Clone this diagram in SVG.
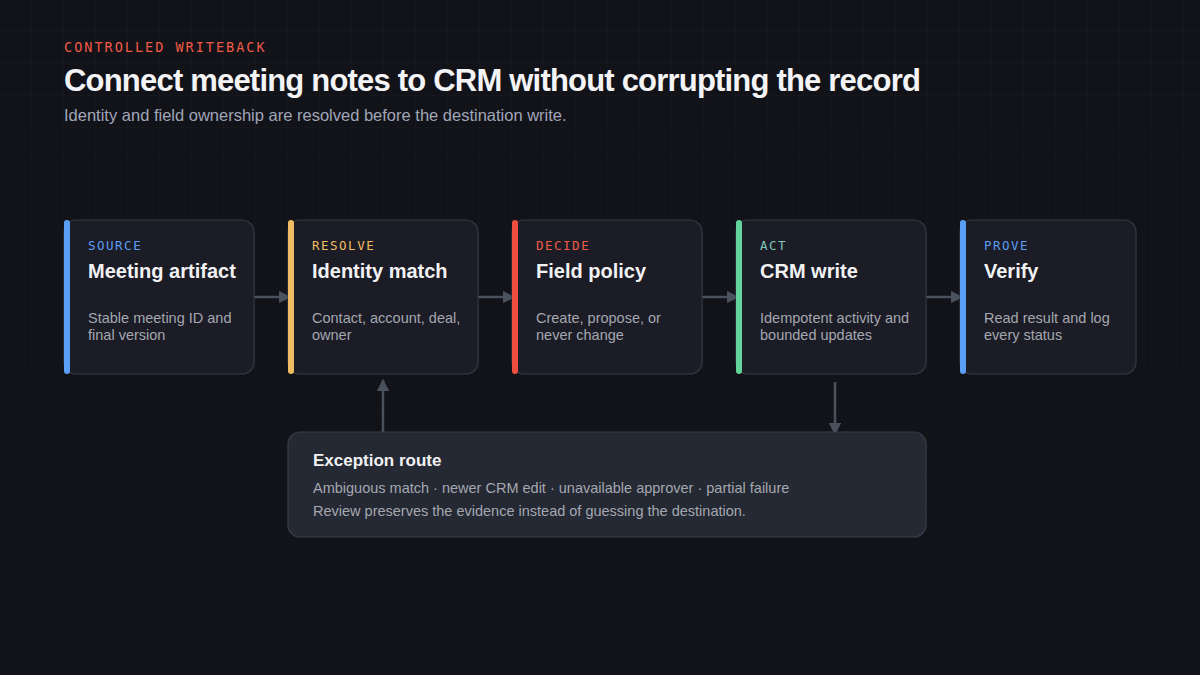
<svg xmlns="http://www.w3.org/2000/svg" width="1200" height="675" viewBox="0 0 1200 675">
<defs>
<pattern id="grid" width="32" height="32" patternUnits="userSpaceOnUse"><path d="M32 0V32M0 32H32" fill="none" stroke="#ffffff" stroke-opacity="0.035" stroke-width="1"/></pattern>
<linearGradient id="fade" x1="0" y1="0" x2="0" y2="1"><stop offset="0" stop-color="#fff" stop-opacity="1"/><stop offset="1" stop-color="#fff" stop-opacity="0.5"/></linearGradient>
<mask id="m"><rect width="1200" height="618" fill="url(#fade)"/></mask>
<marker id="ah" viewBox="0 0 10 10" refX="9" refY="5" markerWidth="5" markerHeight="5" markerUnits="strokeWidth" orient="auto"><path d="M0 0L10 5L0 10Z" fill="#4b515c"/></marker>
</defs>
<style>
.card{fill:#1b1c25;stroke:#363944;stroke-width:1.2}
.tag{font-family:"DejaVu Sans Mono",monospace;font-size:12.5px;letter-spacing:1.5px}
.t{font-family:"Liberation Sans",Arial,sans-serif;font-size:20px;font-weight:bold;fill:#f2f2f4}
.d{font-family:"Liberation Sans",Arial,sans-serif;font-size:14.5px;fill:#a4a7b0}
.c{stroke:#4b515c;stroke-width:2.5;fill:none;marker-end:url(#ah)}
</style>
<rect width="1200" height="675" fill="#121319"/>
<rect width="1200" height="618" fill="url(#grid)" mask="url(#m)"/>
<text x="64" y="52" font-family="DejaVu Sans Mono,monospace" font-size="13.5" letter-spacing="2" fill="#ef5a46">CONTROLLED WRITEBACK</text>
<text x="64" y="91" font-family="Liberation Sans,Arial,sans-serif" font-size="31" font-weight="bold" letter-spacing="-0.8" fill="#f4f4f6">Connect meeting notes to CRM without corrupting the record</text>
<text x="64" y="121" font-family="Liberation Sans,Arial,sans-serif" font-size="16.5" fill="#a0a6b8">Identity and field ownership are resolved before the destination write.</text>
<g id="connectors">
<line class="c" x1="254" y1="297" x2="290" y2="297"/>
<line class="c" x1="478" y1="297" x2="514" y2="297"/>
<line class="c" x1="702" y1="297" x2="738" y2="297"/>
<line class="c" x1="926" y1="297" x2="962" y2="297"/>
<line class="c" x1="383" y1="432" x2="383" y2="380"/>
<line class="c" x1="835" y1="382" x2="835" y2="434"/>
</g>
<g id="n1"><rect class="card" x="64" y="220" width="190" height="154" rx="12"/><rect x="64" y="220" width="6" height="154" rx="3" fill="#5b9ef5"/><text class="tag" x="88" y="250" fill="#5b9ef5">SOURCE</text><text class="t" x="88" y="278">Meeting artifact</text><text class="d" x="88" y="323">Stable meeting ID and</text><text class="d" x="88" y="340">final version</text></g>
<g id="n2"><rect class="card" x="288" y="220" width="190" height="154" rx="12"/><rect x="288" y="220" width="6" height="154" rx="3" fill="#f0bd62"/><text class="tag" x="312" y="250" fill="#f0bd62">RESOLVE</text><text class="t" x="312" y="278">Identity match</text><text class="d" x="312" y="323">Contact, account, deal,</text><text class="d" x="312" y="340">owner</text></g>
<g id="n3"><rect class="card" x="512" y="220" width="190" height="154" rx="12"/><rect x="512" y="220" width="6" height="154" rx="3" fill="#ef4d40"/><text class="tag" x="536" y="250" fill="#ef5a46">DECIDE</text><text class="t" x="536" y="278">Field policy</text><text class="d" x="536" y="323">Create, propose, or</text><text class="d" x="536" y="340">never change</text></g>
<g id="n4"><rect class="card" x="736" y="220" width="190" height="154" rx="12"/><rect x="736" y="220" width="6" height="154" rx="3" fill="#62d39b"/><text class="tag" x="760" y="250" fill="#7fc9b8">ACT</text><text class="t" x="760" y="278">CRM write</text><text class="d" x="760" y="323">Idempotent activity and</text><text class="d" x="760" y="340">bounded updates</text></g>
<g id="n5"><rect class="card" x="960" y="220" width="176" height="154" rx="12"/><rect x="960" y="220" width="6" height="154" rx="3" fill="#5b9ef5"/><text class="tag" x="984" y="250" fill="#5b9ef5">PROVE</text><text class="t" x="984" y="278">Verify</text><text class="d" x="984" y="323">Read result and log</text><text class="d" x="984" y="340">every status</text></g>
<g id="exception"><rect x="288" y="432" width="638" height="105" rx="12" fill="#252933" stroke="#3a3e4a" stroke-width="1.2"/><text x="313" y="466" font-family="Liberation Sans,Arial,sans-serif" font-size="17" font-weight="bold" fill="#f2f2f4">Exception route</text><text class="d" x="313" y="493">Ambiguous match · newer CRM edit · unavailable approver · partial failure</text><text class="d" x="313" y="516">Review preserves the evidence instead of guessing the destination.</text></g>
</svg>
